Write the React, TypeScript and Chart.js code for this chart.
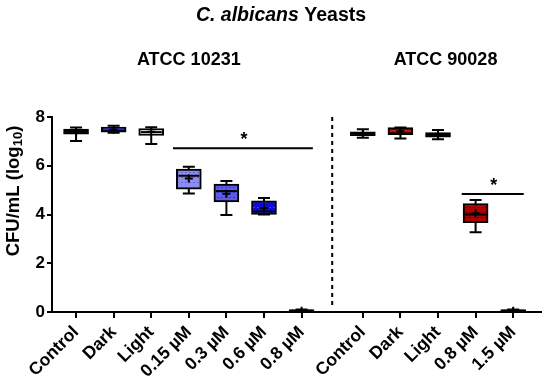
import React, { useEffect, useRef } from "react";
import { Chart, registerables } from "chart.js";
Chart.register(...registerables);

// ---- data ----
const leftCategories = ["Control", "Dark", "Light", "0.15 µM", "0.3 µM", "0.6 µM", "0.8 µM"];
const rightCategories = ["Control", "Dark", "Light", "0.8 µM", "1.5 µM"];

const leftMin = [7.02, 7.35, 6.89, 4.86, 3.98, 4.0, 0];
const leftQ1 = [7.3, 7.38, 7.24, 5.04, 4.52, 4.0, 0];
const leftMedian = [7.42, 7.5, 7.38, 5.59, 4.96, 4.12, 0.05];
const leftQ3 = [7.5, 7.59, 7.53, 5.86, 5.25, 4.56, 0.1];
const leftMax = [7.57, 7.64, 7.58, 5.96, 5.37, 4.68, 0.1];
const leftMean = [7.4, 7.48, 7.4, 5.48, 4.85, 4.27, 0.05];

const rightMin = [7.15, 7.12, 7.09, 3.27, 0];
const rightQ1 = [7.23, 7.28, 7.17, 3.66, 0];
const rightMedian = [7.31, 7.43, 7.28, 4.0, 0.05];
const rightQ3 = [7.39, 7.57, 7.36, 4.45, 0.1];
const rightMax = [7.5, 7.57, 7.47, 4.59, 0.1];
const rightMean = [7.32, 7.42, 7.27, 4.05, 0.05];

const yTicks = [0, 2, 4, 6, 8];

// significance annotations: [from index, to index, y value] within each group
const leftSig = [2.58, 6.3, 6.72];
const rightSig = [2.63, 4.28, 4.84];

// ---- styles ----
const leftFill = ["#111111", "#05051a", "#ffffff", "#8c8cf2", "#5c5ce8", "#0c0ce0", "#000000"];
const leftDot = ["#111111", "#05051a", "#9a9a9a", "#6464d0", "#3c3cc0", "#3a3af0", "#000000"];
const leftMedColor = ["#000", "#2a2ab0", "#000", "#000", "#000", "#000", "#000"];
const rightFill = ["#111111", "#3a0000", "#111111", "#b00000", "#000000"];
const rightDot = ["#111111", "#3a0000", "#111111", "#6a0000", "#000000"];
const rightMedColor = ["#000", "#c01818", "#000", "#000", "#000"];

const GROUP_GAP = 1.63; // right group starts this far after last left category
const RIGHT_START = leftCategories.length - 1 + GROUP_GAP;
const leftPos = leftCategories.map((_, i) => i);
const rightPos = rightCategories.map((_, i) => RIGHT_START + i);
const allPos = [...leftPos, ...rightPos];
const allLabels = [...leftCategories, ...rightCategories];
const allMin = [...leftMin, ...rightMin];
const allQ1 = [...leftQ1, ...rightQ1];
const allMed = [...leftMedian, ...rightMedian];
const allQ3 = [...leftQ3, ...rightQ3];
const allMax = [...leftMax, ...rightMax];
const allMean = [...leftMean, ...rightMean];
const allFill = [...leftFill, ...rightFill];
const allDot = [...leftDot, ...rightDot];
const allMedColor = [...leftMedColor, ...rightMedColor];

const FONT = "'Liberation Sans', Arial, sans-serif";
const BOX_W = 25;
const CAP_W = 12;

function makePattern(fill: string, dot: string): CanvasPattern | string {
  const c = document.createElement("canvas");
  c.width = 4;
  c.height = 5;
  const g = c.getContext("2d");
  if (!g) return fill;
  g.fillStyle = fill;
  g.fillRect(0, 0, 4, 5);
  g.fillStyle = dot;
  g.fillRect(1, 2, 2, 1);
  const p = g.createPattern(c, "repeat");
  return p || fill;
}

const boxPlugin = {
  id: "boxDecor",
  beforeDatasetsDraw(chart: any) {
    const { ctx, scales } = chart;
    const x = scales.x, y = scales.y;
    ctx.save();
    ctx.strokeStyle = "#000";
    ctx.lineWidth = 2;
    allPos.forEach((p, i) => {
      const px = x.getPixelForValue(p);
      ctx.beginPath();
      ctx.moveTo(px, y.getPixelForValue(allMin[i]));
      ctx.lineTo(px, y.getPixelForValue(allMax[i]));
      ctx.stroke();
      ctx.beginPath();
      ctx.moveTo(px - CAP_W / 2, y.getPixelForValue(allMin[i]));
      ctx.lineTo(px + CAP_W / 2, y.getPixelForValue(allMin[i]));
      ctx.moveTo(px - CAP_W / 2, y.getPixelForValue(allMax[i]));
      ctx.lineTo(px + CAP_W / 2, y.getPixelForValue(allMax[i]));
      ctx.stroke();
    });
    ctx.restore();
  },
  afterDatasetDraw(chart: any, args: any) {
    if (args.index !== 1) return;
    const { ctx, scales } = chart;
    const x = scales.x, y = scales.y;
    ctx.save();
    ctx.lineWidth = 2;
    allPos.forEach((p, i) => {
      const px = x.getPixelForValue(p);
      const py = y.getPixelForValue(allMed[i]);
      ctx.strokeStyle = allMedColor[i];
      ctx.beginPath();
      ctx.moveTo(px - BOX_W / 2 + 2, py);
      ctx.lineTo(px + BOX_W / 2 - 2, py);
      ctx.stroke();
    });
    ctx.restore();
  },
  afterDraw(chart: any) {
    const { ctx, scales, chartArea } = chart;
    const x = scales.x, y = scales.y;
    ctx.save();
    // dashed separator
    const sepX = x.getPixelForValue(leftCategories.length - 1 + GROUP_GAP / 2);
    ctx.strokeStyle = "#000";
    ctx.lineWidth = 2;
    ctx.setLineDash([4, 4]);
    ctx.beginPath();
    ctx.moveTo(sepX, chartArea.top);
    ctx.lineTo(sepX, chartArea.bottom - 4);
    ctx.stroke();
    ctx.setLineDash([]);

    // significance lines
    const sigs = [
      [leftSig[0], leftSig[1], leftSig[2]],
      [RIGHT_START + rightSig[0], RIGHT_START + rightSig[1], rightSig[2]],
    ];
    ctx.fillStyle = "#000";
    ctx.font = `bold 18px ${FONT}`;
    ctx.textAlign = "center";
    ctx.textBaseline = "alphabetic";
    sigs.forEach(([a, b, v]) => {
      const py = y.getPixelForValue(v);
      const xa = x.getPixelForValue(a), xb = x.getPixelForValue(b);
      ctx.beginPath();
      ctx.moveTo(xa, py);
      ctx.lineTo(xb, py);
      ctx.stroke();
      ctx.fillText("*", (xa + xb) / 2 + 1, py - 3);
    });

    // titles
    const TS = 19.5;
    ctx.textAlign = "left";
    const t1 = "C. albicans";
    const t2 = " Yeasts";
    ctx.font = `italic bold ${TS}px ${FONT}`;
    const w1 = ctx.measureText(t1).width;
    ctx.font = `bold ${TS}px ${FONT}`;
    const w2 = ctx.measureText(t2).width;
    const tx = 281 - (w1 + w2) / 2;
    ctx.font = `italic bold ${TS}px ${FONT}`;
    ctx.fillText(t1, tx, 21);
    ctx.font = `bold ${TS}px ${FONT}`;
    ctx.fillText(t2, tx + w1, 21);

    ctx.font = `bold 18px ${FONT}`;
    ctx.textAlign = "center";
    ctx.fillText("ATCC 10231", x.getPixelForValue(3), 65);
    ctx.fillText("ATCC 90028", x.getPixelForValue(RIGHT_START + 2.2), 65);

    // y title with subscript
    ctx.translate(14, 191);
    ctx.rotate(-Math.PI / 2);
    const fMain = `bold 18.5px ${FONT}`;
    const fSub = `bold 13px ${FONT}`;
    const parts: [string, string, number][] = [
      ["CFU/mL (log", fMain, 0],
      ["10", fSub, 4],
      [")", fMain, 0],
    ];
    let total = 0;
    parts.forEach(([s, f]) => {
      ctx.font = f;
      total += ctx.measureText(s).width;
    });
    let cx = -total / 2;
    ctx.textAlign = "left";
    ctx.textBaseline = "middle";
    parts.forEach(([s, f, dy]) => {
      ctx.font = f;
      ctx.fillText(s, cx, dy);
      cx += ctx.measureText(s).width;
    });
    ctx.restore();
  },
};

export default function App() {
  const ref = useRef<HTMLCanvasElement | null>(null);
  useEffect(() => {
    document.body.style.margin = "0";
    const canvas = ref.current;
    if (!canvas) return;
    const patterns = allFill.map((f, i) => makePattern(f, allDot[i]));
    const chart = new Chart(canvas, {
      type: "bar",
      data: {
        datasets: [
          {
            type: "scatter",
            data: allPos.map((p, i) => ({ x: p, y: allMean[i] })),
            pointStyle: "cross",
            radius: 4,
            borderWidth: 2,
            borderColor: "#000",
            backgroundColor: "#000",
          } as any,
          {
            type: "bar",
            data: allPos.map((p, i) => ({ x: p, y: [allQ1[i], allQ3[i]] })),
            backgroundColor: patterns as any,
            borderColor: "#000",
            borderWidth: 2,
            borderSkipped: false,
            barThickness: BOX_W,
          } as any,
        ],
      },
      options: {
        animation: false,
        responsive: false,
        events: [],
        layout: { padding: { top: 117, right: 9, left: 0, bottom: 0 } },
        plugins: { legend: { display: false }, tooltip: { enabled: false } },
        scales: {
          x: {
            type: "linear",
            min: -0.64,
            max: 12.37,
            offset: false,
            afterBuildTicks: (scale: any) => {
              scale.ticks = allPos.map((v) => ({ value: v }));
            },
            afterFit: (scale: any) => {
              scale.height = 75;
            },
            grid: {
              offset: false,
              drawOnChartArea: false,
              drawTicks: true,
              tickLength: 6,
              color: "#000",
              lineWidth: 2,
            },
            border: { display: true, color: "#000", width: 2 },
            ticks: {
              autoSkip: false,
              maxRotation: 45,
              minRotation: 45,
              padding: 4,
              color: "#000",
              font: { family: FONT, size: 17.5, weight: "bold" },
              callback: (_v: any, i: number) => allLabels[i],
            },
          },
          y: {
            min: 0,
            max: 8,
            afterBuildTicks: (scale: any) => {
              scale.ticks = yTicks.map((v) => ({ value: v }));
            },
            afterFit: (scale: any) => {
              scale.width = 52;
            },
            grid: {
              drawOnChartArea: false,
              drawTicks: true,
              tickLength: 5,
              color: "#000",
              lineWidth: 2,
            },
            border: { display: true, color: "#000", width: 2 },
            ticks: {
              padding: 2,
              color: "#000",
              font: { family: FONT, size: 17, weight: "bold" },
            },
          },
        },
      },
      plugins: [boxPlugin],
    } as any);
    return () => chart.destroy();
  }, []);
  return <canvas ref={ref} width={550} height={387} style={{ display: "block" }} />;
}
